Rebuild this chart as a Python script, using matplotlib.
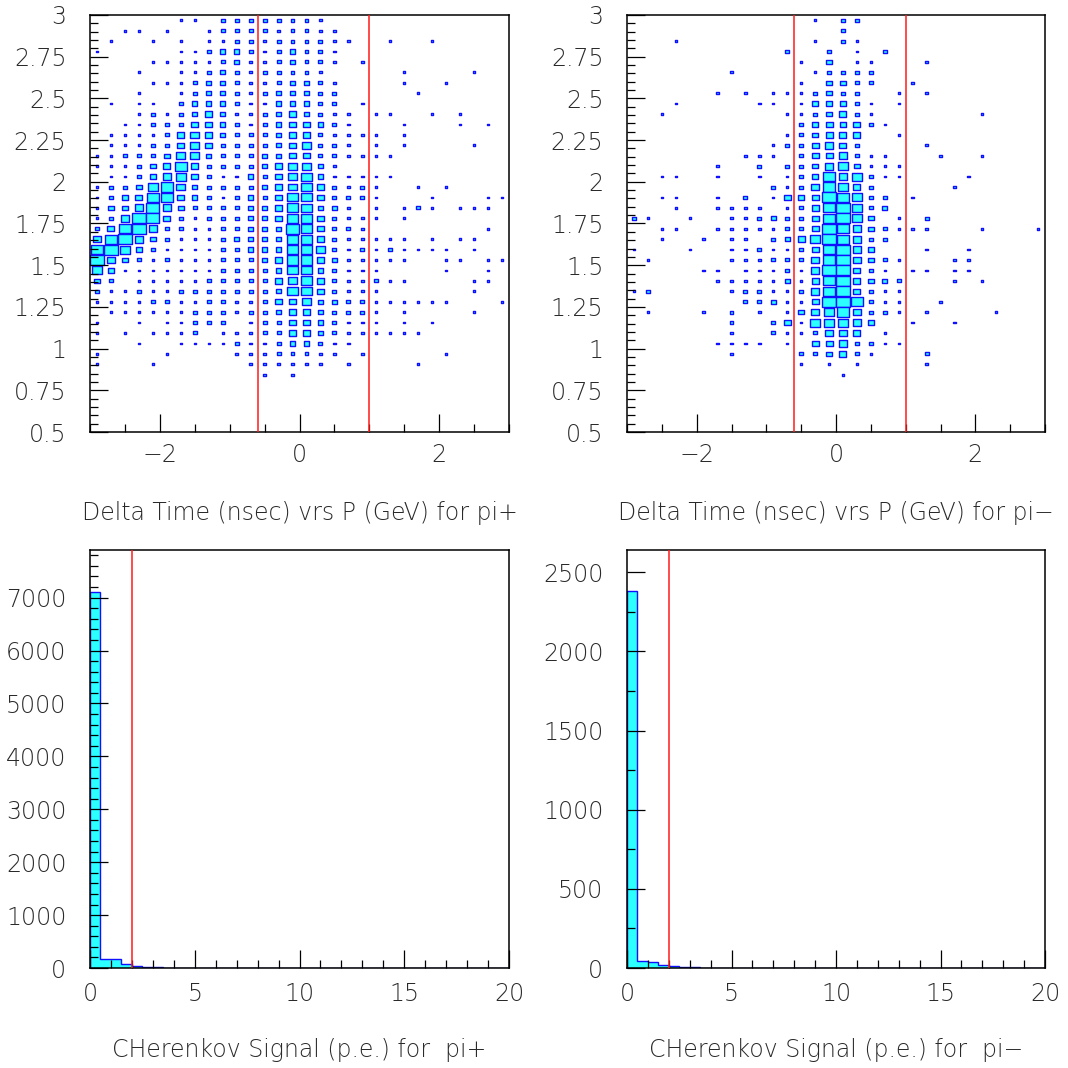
"""Delta time vs P box plots and Cherenkov spectra for pi+ / pi-."""

import numpy as np
import matplotlib
matplotlib.use("Agg")
import matplotlib.pyplot as plt
from matplotlib.collections import PatchCollection
from matplotlib.patches import Rectangle
from matplotlib.ticker import MultipleLocator, FormatStrFormatter

# --- 2D box plots: one string per P bin (top row = P 3.0 -> 2.9375),
# one digit per delta-time bin (-3 .. 3 in 0.2 steps), digit = box size
PIP_ROWS = [
    "000000110222222210000000000000",
    "001101001222212211000000000000",
    "010010101122122221100100100000",
    "100000112332123221000000000000",
    "000011111231123221010000000000",
    "000100112321222210000010000100",
    "000011123321123321000010010000",
    "000100123321233322000001000000",
    "010110233321133322010000000000",
    "000121234311234321101100101000",
    "001122244321234432100010001010",
    "011112454322234421111010000000",
    "011122454222234522101010000100",
    "112223553222334422111100000000",
    "111234742222345531000000000000",
    "011235642113245631111100000000",
    "122367532222345642121001010000",
    "123477432123246642221000100011",
    "133585322223347633101012101110",
    "125884212223347742111010000000",
    "247852211223338742210000000010",
    "478532111233337742111110101100",
    "786321111223337752121211110100",
    "853212111222347743111110011011",
    "631111111222236632111000010010",
    "320111112222245742112110000110",
    "211211222222236642111000000100",
    "111122112211244533221111110001",
    "011111122212234432221010000100",
    "100101122201224432111010100000",
    "101011120111224432111111000000",
    "000100111121123321100000000000",
    "100001000011122211010000010000",
    "100010000001111110100001000000",
    "000000000000101000000000000000",
]

PIM_ROWS = [
    "000000000000010220000000000000",
    "000000000000000200000000000000",
    "000100000000010210000000000000",
    "000000000002002010200000000000",
    "000000000000103011000100000000",
    "000000010000012222000000000000",
    "000000000000103322001000000000",
    "000000101011123220010100000000",
    "000100000110133321010000000000",
    "001000000001123421000000010000",
    "000000000000234342100000000000",
    "000000000001234440010000000000",
    "000000000012245420000100000000",
    "000000001110244521100010010000",
    "000000100202235631110000000000",
    "001100100101237562110000100000",
    "000000000021257642000001000000",
    "001100102014348762201000000000",
    "000100111101247962300000000000",
    "210010011232247963010200000000",
    "001100111112248753211100010001",
    "001001011023469752200000000000",
    "100010011211247953000100100000",
    "010000011122257853210001100000",
    "000001101112158842101101100000",
    "000000111113147843320001010000",
    "120000012211257842110000000000",
    "000000002231149872110010000000",
    "010001020101356752210100001000",
    "000000020024166653001001000000",
    "000000010021125540100000000000",
    "000000111101044522110000000000",
    "000000010000223421000200000000",
    "000000000000101010000100000000",
    "000000000000000100000000000000",
]

DT_EDGES = np.linspace(-3.0, 3.0, 31)
P_TOP = 3.0
P_BIN = 0.0625
DT_CUTS = [-0.6, 1.0]

# --- Cherenkov spectra, 0.5 p.e. bins from 0 to 20
CHER_EDGES = np.linspace(0.0, 20.0, 41)
CHER_PIP = [7100, 165, 175, 80, 40, 25, 14, 9, 6, 5, 4, 3, 2, 2, 1, 1, 1, 1, 1, 0,
            1, 0, 0, 1, 0, 0, 0, 0, 0, 0, 0, 0, 0, 0, 0, 0, 0, 0, 0, 0]
CHER_PIM = [2380, 45, 40, 20, 10, 6, 4, 3, 2, 2, 1, 1, 1, 0, 1, 0, 0, 0, 0, 0,
            0, 0, 0, 0, 0, 0, 0, 0, 0, 0, 0, 0, 0, 0, 0, 0, 0, 0, 0, 0]
CHER_CUT = 2.0

CYAN = "#2bffff"
BLUE = "#1010ff"
RED = "#ff1a1a"
TXT = "#2a2a2a"
FONT = dict(family="DejaVu Sans", weight=200)

W = 1068.0


def ax_rect(x0, x1, y0, y1):
    return [x0 / W, 1 - y1 / W, (x1 - x0) / W, (y1 - y0) / W]


def style(ax, xpad, ypad):
    for s in ax.spines.values():
        s.set_linewidth(1.1)
        s.set_color("black")
    ax.tick_params(which="both", direction="in", top=False, right=False,
                   colors="black", labelcolor=TXT, labelsize=17, width=0.9)
    ax.tick_params(which="major", length=13)
    ax.tick_params(which="minor", length=6)
    ax.tick_params(axis="x", which="both", pad=xpad)
    ax.tick_params(axis="y", which="both", pad=ypad)
    for t in ax.get_xticklabels() + ax.get_yticklabels():
        t.set_fontweight(FONT["weight"])


def draw_boxes(ax, rows):
    xc = 0.5 * (DT_EDGES[:-1] + DT_EDGES[1:])
    bw = DT_EDGES[1] - DT_EDGES[0]
    boxes = []
    for j, row in enumerate(rows):
        yc = P_TOP - P_BIN * (j + 0.5)
        for k, ch in enumerate(row):
            lev = int(ch)
            if lev == 0:
                continue
            fx = min((0.8 + 1.55 * lev) / 13.9, 0.95)
            fy = min((0.5 + 1.25 * lev) / 10.4, 0.96)
            w, h = fx * bw, fy * P_BIN
            boxes.append(Rectangle((xc[k] - w / 2, yc - h / 2), w, h))
    ax.add_collection(PatchCollection(boxes, facecolor=CYAN, edgecolor=BLUE,
                                      linewidth=1.0, zorder=1))


def set_label(ax, text, frac):
    ax.set_xlabel(text, fontsize=17, color=TXT, **FONT)
    ax.xaxis.set_label_coords(0.5, frac)
    ax.xaxis.label.set_va("center")


def box_panel(ax, rows, label):
    draw_boxes(ax, rows)
    for c in DT_CUTS:
        ax.axvline(c, color=RED, linewidth=1.1, zorder=3)
    ax.set_xlim(-3, 3)
    ax.set_ylim(0.5, 3)
    ax.xaxis.set_major_locator(MultipleLocator(2))
    ax.xaxis.set_minor_locator(MultipleLocator(0.5))
    ax.yaxis.set_major_locator(MultipleLocator(0.25))
    ax.yaxis.set_minor_locator(MultipleLocator(0.05))
    ax.yaxis.set_major_formatter(FormatStrFormatter("%g"))
    style(ax, xpad=8, ypad=17)
    set_label(ax, label, -81 / 417)


def hist_panel(ax, counts, ymax, major, minor, label):
    widths = np.diff(CHER_EDGES)
    ax.bar(CHER_EDGES[:-1], counts, width=widths, align="edge",
           color=CYAN, linewidth=0, zorder=0.5)
    ax.stairs(counts, CHER_EDGES, color=BLUE, linewidth=1.0, zorder=0.6)
    ax.axvline(CHER_CUT, color=RED, linewidth=1.1, zorder=3)
    ax.set_xlim(0, 20)
    ax.set_ylim(0, ymax)
    ax.xaxis.set_major_locator(MultipleLocator(5))
    ax.xaxis.set_minor_locator(MultipleLocator(1))
    ax.yaxis.set_major_locator(MultipleLocator(major))
    ax.yaxis.set_minor_locator(MultipleLocator(minor))
    style(ax, xpad=10, ypad=17)
    set_label(ax, label, -82 / 418)


def main() -> None:
    plt.rcParams["font.family"] = ["DejaVu Sans"]
    fig = plt.figure(figsize=(10.68, 10.68), dpi=100, facecolor="white")

    ax_tl = fig.add_axes(ax_rect(90, 509, 15, 432))
    ax_tr = fig.add_axes(ax_rect(627, 1045, 15, 432))
    ax_bl = fig.add_axes(ax_rect(90, 509, 550, 968))
    ax_br = fig.add_axes(ax_rect(627, 1045, 550, 968))

    box_panel(ax_tl, PIP_ROWS, "Delta Time (nsec) vrs P (GeV) for pi+")
    box_panel(ax_tr, PIM_ROWS, "Delta Time (nsec) vrs P (GeV) for pi\u2212")
    hist_panel(ax_bl, CHER_PIP, 7900, 1000, 200, "CHerenkov Signal (p.e.) for  pi+")
    hist_panel(ax_br, CHER_PIM, 2640, 500, 250, "CHerenkov Signal (p.e.) for  pi\u2212")

    fig.savefig("out.png", dpi=100, facecolor="white")
    plt.close(fig)


if __name__ == "__main__":
    main()
